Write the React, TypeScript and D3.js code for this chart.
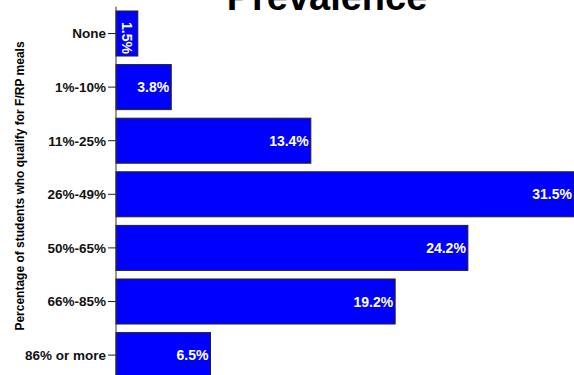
import React from "react";
import * as d3 from "d3";

const categories = ["None", "1%-10%", "11%-25%", "26%-49%", "50%-65%", "66%-85%", "86% or more"];
const values = [1.5, 3.8, 13.4, 31.5, 24.2, 19.2, 6.5];
const valueLabels = ["1.5%", "3.8%", "13.4%", "31.5%", "24.2%", "19.2%", "6.5%"];
const title = "Prevalence";
const yTitle = "Percentage of students who qualify for F/RP meals";

const W = 574;
const H = 375;
const FONT = "Liberation Sans, Arial, Helvetica, sans-serif";

export default function App() {
  const x = d3.scaleLinear().domain([0, 31.5]).range([116, 574]);
  const y = d3
    .scaleBand<string>()
    .domain(categories)
    .range([6.7, 381.9])
    .paddingInner(0.16)
    .paddingOuter(0.08);
  const bw = y.bandwidth();

  return (
    <svg
      width={W}
      height={H}
      style={{ position: "absolute", left: 0, top: 0, background: "#fff" }}
      fontFamily={FONT}
    >
      <text x={327} y={10} textAnchor="middle" fontSize={38} fontWeight="bold" fill="#000">
        {title}
      </text>
      <text
        transform={`translate(24,186) rotate(-90)`}
        textAnchor="middle"
        fontSize={12}
        fontWeight="bold"
        fill="#000"
      >
        {yTitle}
      </text>
      {categories.map((c, i) => {
        const y0 = y(c)!;
        const x1 = x(values[i]);
        const cy = y0 + bw / 2;
        const rotated = values[i] < 2;
        return (
          <g key={c}>
            <rect
              x={x(0)}
              y={y0}
              width={x1 - x(0)}
              height={bw}
              fill="#0000ff"
              stroke="#222"
              strokeWidth={1}
            />
            {rotated ? (
              <text
                transform={`translate(${(x(0) + x1) / 2 - 5},${y0 + 11}) rotate(90)`}
                textAnchor="start"
                fontSize={14}
                fontWeight="bold"
                fill="#fff"
              >
                {valueLabels[i]}
              </text>
            ) : (
              <text
                x={x1 - 2}
                y={cy}
                dy="0.36em"
                textAnchor="end"
                fontSize={14}
                fontWeight="bold"
                fill="#fff"
              >
                {valueLabels[i]}
              </text>
            )}
            <line x1={108} x2={116} y1={cy} y2={cy} stroke="#222" strokeWidth={1} />
            <text
              x={106}
              y={cy}
              dy="0.36em"
              textAnchor="end"
              fontSize={13.5}
              fontWeight="bold"
              fill="#111"
            >
              {c}
            </text>
          </g>
        );
      })}
      <line x1={116} x2={116} y1={6.7} y2={H} stroke="#333" strokeWidth={1} />
    </svg>
  );
}
